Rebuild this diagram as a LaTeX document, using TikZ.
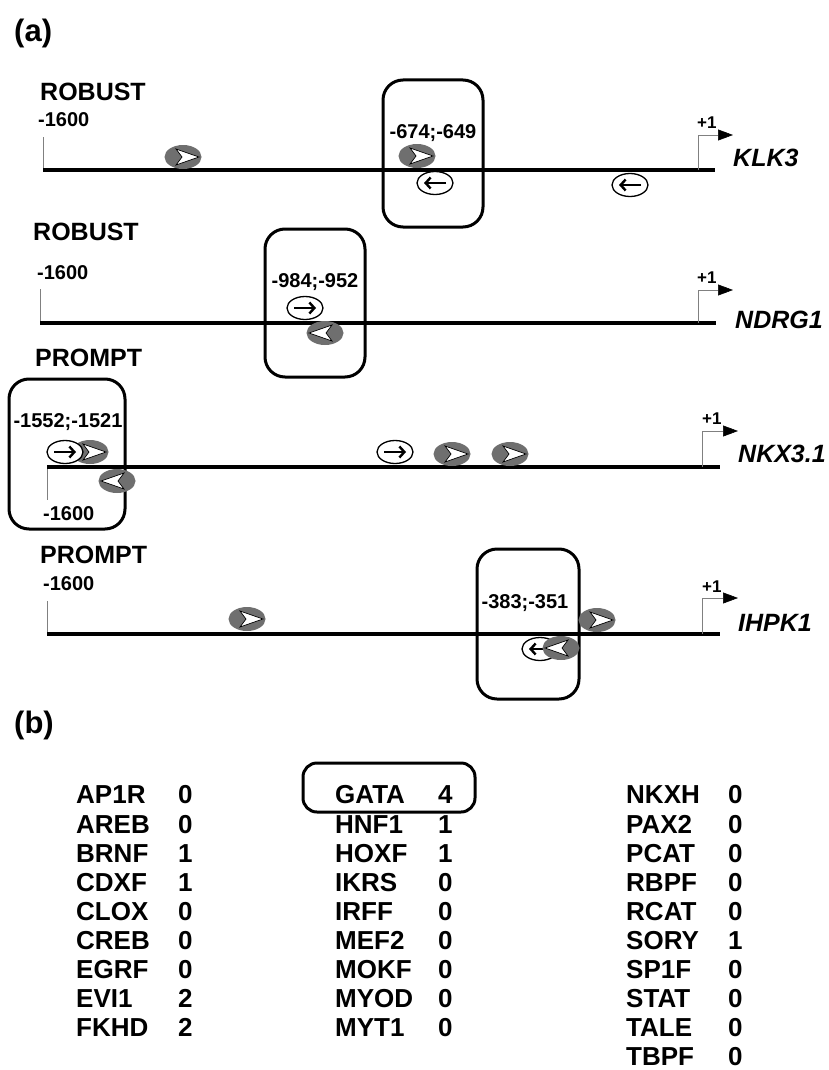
\documentclass[tikz,border=0pt]{standalone}
\usepackage{fontspec}
\setmainfont{Liberation Sans}
\usetikzlibrary{shapes.geometric,arrows.meta}
\definecolor{motifgray}{HTML}{6F6F6F}
\tikzset{
  panel/.style={inner sep=0pt, anchor=west, font=\bfseries\fontsize{31}{36}\selectfont},
  lbl/.style={inner sep=0pt, anchor=west, font=\bfseries\fontsize{25}{30}\selectfont},
  coordlbl/.style={inner sep=0pt, anchor=west, font=\bfseries\fontsize{20}{24}\selectfont},
  pluslbl/.style={inner sep=0pt, anchor=west, font=\bfseries\fontsize{17}{20}\selectfont},
  sitelbl/.style={inner sep=1pt, fill=white, font=\bfseries\fontsize{20}{24}\selectfont},
  gene/.style={inner sep=0pt, anchor=west, font=\bfseries\itshape\fontsize{25}{30}\selectfont},
  tablbl/.style={inner sep=0pt, anchor=west, font=\bfseries\fontsize{26}{30}\selectfont},
  tss/.style={gray, line width=0.6pt, -{Triangle[length=15pt,width=11pt,color=black]}},
  dna/.style={line width=3.5pt},
  startmark/.style={gray, line width=0.8pt},
  sitebox/.style={line width=3pt, rounded corners=20pt},
  gmotif/.style={ellipse, fill=motifgray, minimum width=37pt, minimum height=24pt, inner sep=0pt},
  wmotif/.style={ellipse, draw, fill=white, line width=1.3pt, minimum width=36pt, minimum height=23pt, inner sep=0pt},
  gm/.pic={\node[gmotif] (-e) {};
    \filldraw[fill=white, line width=0.7pt, line join=miter] (16,0) -- (-7,-8) -- (-1,0) -- (-7,8) -- cycle;},
  wm/.pic={\node[wmotif] (-e) {};
    \draw[line width=2.4pt, -{Straight Barb[length=5pt,width=11pt,line width=2.4pt]}] (-11,0) -- (11,0);},
}
\begin{document}
\begin{tikzpicture}[x=1pt,y=-1pt]
  \useasboundingbox (0,0) rectangle (829,1070);
  \node[panel] (pa) at (14,33) {(a)};
  \node[panel] (pb) at (14,725) {(b)};

  % boxes round the conserved sites
  \draw[sitebox] (383,80) rectangle (483,227);
  \draw[sitebox] (265,229) rectangle (365,377);
  \draw[sitebox] (9,379) rectangle (125,529);
  \draw[sitebox] (477,549) rectangle (579,699);

  % KLK3
  \node[lbl] (cls1) at (40,92) {ROBUST};
  \node[coordlbl] (st1) at (38,120) {-1600};
  \draw[startmark] (43,137) -- (43,170);
  \draw[dna] (43,170) -- (715,170);
  \draw[tss] (698,170) |- (733,135);
  \node[pluslbl] (p1) at (697,123) {+1};
  \node[gene] (g1) at (733,158) {KLK3};
  \node[sitelbl] (s1) at (433,133) {-674;-649};
  \pic (k1) at (183,157) {gm};
  \pic (k2) at (417,156) {gm};
  \pic[rotate=180] (k3) at (435,183) {wm};
  \pic[rotate=180] (k4) at (630,185) {wm};

  % NDRG1
  \node[lbl] (cls2) at (33,232) {ROBUST};
  \node[coordlbl] (st2) at (37,273) {-1600};
  \draw[startmark] (40,289) -- (40,323);
  \draw[dna] (40,323) -- (716,323);
  \draw[tss] (698,323) |- (733,290);
  \node[pluslbl] (p2) at (697,278) {+1};
  \node[gene] (g2) at (735,320) {NDRG1};
  \node[sitelbl] (s2) at (315,282) {-984;-952};
  \pic (n1) at (305,308) {wm};
  \pic[rotate=180] (n2) at (325,333) {gm};

  % NKX3.1
  \node[lbl] (cls3) at (35,358) {PROMPT};
  \node[coordlbl] (st3) at (43,514) {-1600};
  \draw[startmark] (47,467) -- (47,500);
  \draw[dna] (47,467) -- (720,467);
  \draw[tss] (702,467) |- (738,431);
  \node[pluslbl] (p3) at (702,419) {+1};
  \node[gene] (g3) at (738,454) {NKX3.1};
  \node[sitelbl] (s3) at (68,422) {-1552;-1521};
  \pic (x2) at (90,452) {gm};
  \pic (x1) at (65,452) {wm};
  \pic[rotate=180] (x3) at (117,481) {gm};
  \pic (x4) at (395,452) {wm};
  \pic (x5) at (452,454) {gm};
  \pic (x6) at (510,454) {gm};

  % IHPK1
  \node[lbl] (cls4) at (40,555) {PROMPT};
  \node[coordlbl] (st4) at (43,584) {-1600};
  \draw[startmark] (47,601) -- (47,634);
  \draw[dna] (47,634) -- (720,634);
  \draw[tss] (702,634) |- (738,598);
  \node[pluslbl] (p4) at (702,587) {+1};
  \node[gene] (g4) at (738,623) {IHPK1};
  \node[sitelbl] (s4) at (525,603) {-383;-351};
  \pic (h1) at (247,619) {gm};
  \pic (h2) at (597,620) {gm};
  \pic[rotate=180] (h3) at (540,649) {wm};
  \pic[rotate=180] (h4) at (561,648) {gm};

  % counts per family
  \draw[line width=3pt, rounded corners=14pt] (303,763) rectangle (475,812);
  \foreach \n/\v [count=\i from 0] in {AP1R/0,AREB/0,BRNF/1,CDXF/1,CLOX/0,CREB/0,EGRF/0,EVI1/2,FKHD/2}{
    \node[tablbl] (a\i) at (76,795+29.1*\i) {\n};
    \node[tablbl] (av\i) at (178,795+29.1*\i) {\v};
  }
  \foreach \n/\v [count=\i from 0] in {GATA/4,HNF1/1,HOXF/1,IKRS/0,IRFF/0,MEF2/0,MOKF/0,MYOD/0,MYT1/0}{
    \node[tablbl] (b\i) at (335,795+29.1*\i) {\n};
    \node[tablbl] (bv\i) at (438,795+29.1*\i) {\v};
  }
  \foreach \n/\v [count=\i from 0] in {NKXH/0,PAX2/0,PCAT/0,RBPF/0,RCAT/0,SORY/1,SP1F/0,STAT/0,TALE/0,TBPF/0}{
    \node[tablbl] (c\i) at (626,795+29.1*\i) {\n};
    \node[tablbl] (cv\i) at (728,795+29.1*\i) {\v};
  }
\end{tikzpicture}
\end{document}
